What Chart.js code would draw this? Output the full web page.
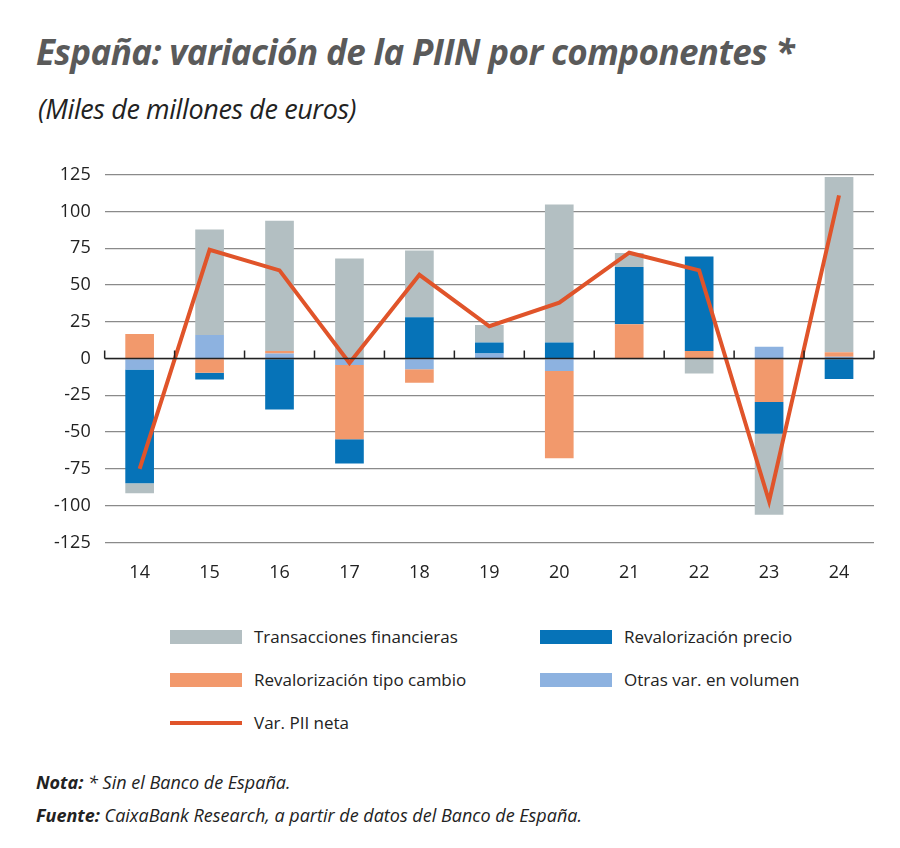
<!DOCTYPE html>
<html><head><meta charset="utf-8">
<script src="https://cdn.jsdelivr.net/npm/chart.js@4/dist/chart.umd.min.js"></script>
<style>
body{margin:0;width:900px;height:848px;background:#fff;font-family:"Open Sans","Noto Sans",sans-serif;position:relative;overflow:hidden}
#t{position:absolute;left:36px;top:28px;font-size:35px;font-weight:bold;font-style:italic;color:#5a5a5a;letter-spacing:-0.6px}
#s{position:absolute;left:38px;top:90px;font-size:27px;font-style:italic;color:#222;letter-spacing:-0.4px}
#c{position:absolute;left:0;top:150px;width:900px;height:446px}
.lg{position:absolute;font-size:17px;color:#222;display:flex;align-items:center}
.sw{width:72px;height:14px;margin-right:12px}
.ln{width:72px;height:4px;margin-right:12px;background:#e0542a}
#n{position:absolute;left:36px;top:766px;font-size:18px;font-style:italic;color:#222;line-height:33px}
</style></head><body>
<div id="t">España: variación de la PIIN por componentes *</div>
<div id="s">(Miles de millones de euros)</div>
<div id="c"><canvas id="cv"></canvas></div>
<div class="lg" style="left:170px;top:625px"><div class="sw" style="background:#b3bfc2"></div>Transacciones financieras</div>
<div class="lg" style="left:540px;top:625px"><div class="sw" style="background:#0673b8"></div>Revalorización precio</div>
<div class="lg" style="left:170px;top:668px"><div class="sw" style="background:#f2996c"></div>Revalorización tipo cambio</div>
<div class="lg" style="left:540px;top:668px"><div class="sw" style="background:#8db2e0"></div>Otras var. en volumen</div>
<div class="lg" style="left:170px;top:711px"><div class="ln"></div>Var. PII neta</div>
<div id="n"><b>Nota:</b> * Sin el Banco de España.<br><b>Fuente:</b> CaixaBank Research, a partir de datos del Banco de España.</div>
<script>
const categories=["14","15","16","17","18","19","20","21","22","23","24"];
const otras=[-7.4,16,3.5,-4.4,-7.2,3.5,-8.5,0,0,8,1.2];
const tipoCambio=[16.7,-9.7,1.6,-50.4,-9.3,0,-59.2,23.3,5.1,-29.5,3.2];
const precio=[-77.4,-4.5,-34.7,-16.6,28.1,7.5,11,39,64.4,-21.6,-13.8];
const transacciones=[-6.8,71.8,88.6,68,45.5,11.9,93.8,9.5,-10.1,-55.1,119.1];
const piiNeta=[-75,74,60,-3,57,22,38,72,60,-97,111];
const yTicks=[125,100,75,50,25,0,-25,-50,-75,-100,-125];
const bar=(label,data,color)=>({type:'bar',label,data,backgroundColor:color,stack:'s',barPercentage:0.41,categoryPercentage:1,order:2});
const tickPlugin={id:'tk',afterDatasetsDraw(ch){const x=ch.scales.x,y=ch.scales.y,c=ch.ctx;const y0=y.getPixelForValue(0);
const w=x.getPixelForValue(1)-x.getPixelForValue(0);
c.save();c.strokeStyle='#222';c.lineWidth=1.5;c.beginPath();c.moveTo(x.left,y0);c.lineTo(x.right,y0);
for(let i=0;i<=categories.length;i++){const px=x.getPixelForValue(0)-w/2+i*w;c.moveTo(px,y0);c.lineTo(px,y0-8);}
c.stroke();c.restore();}};
new Chart(document.getElementById('cv'),{
data:{labels:categories,datasets:[
{type:'line',label:'Var. PII neta',data:piiNeta,borderColor:'#e0542a',borderWidth:4,pointRadius:0,tension:0,order:1},
bar('Otras var. en volumen',otras,'#8db2e0'),
bar('Revalorización tipo cambio',tipoCambio,'#f2996c'),
bar('Revalorización precio',precio,'#0673b8'),
bar('Transacciones financieras',transacciones,'#b3bfc2')]},
options:{responsive:true,maintainAspectRatio:false,animation:false,
layout:{padding:{left:40,right:26,top:17,bottom:0}},
plugins:{legend:{display:false},tooltip:{enabled:false}},
scales:{
x:{stacked:true,grid:{display:false},border:{display:false},ticks:{color:'#222',font:{size:18,family:'Open Sans'},padding:12}},
y:{stacked:true,min:-125,max:125,afterBuildTicks:s=>{s.ticks=yTicks.map(v=>({value:v}))},
grid:{color:'#8a8a8a',lineWidth:1.3,drawTicks:false},border:{display:false},
ticks:{color:'#222',font:{size:18,family:'Open Sans'},padding:14}}}},
plugins:[tickPlugin]});
</script>
</body></html>
